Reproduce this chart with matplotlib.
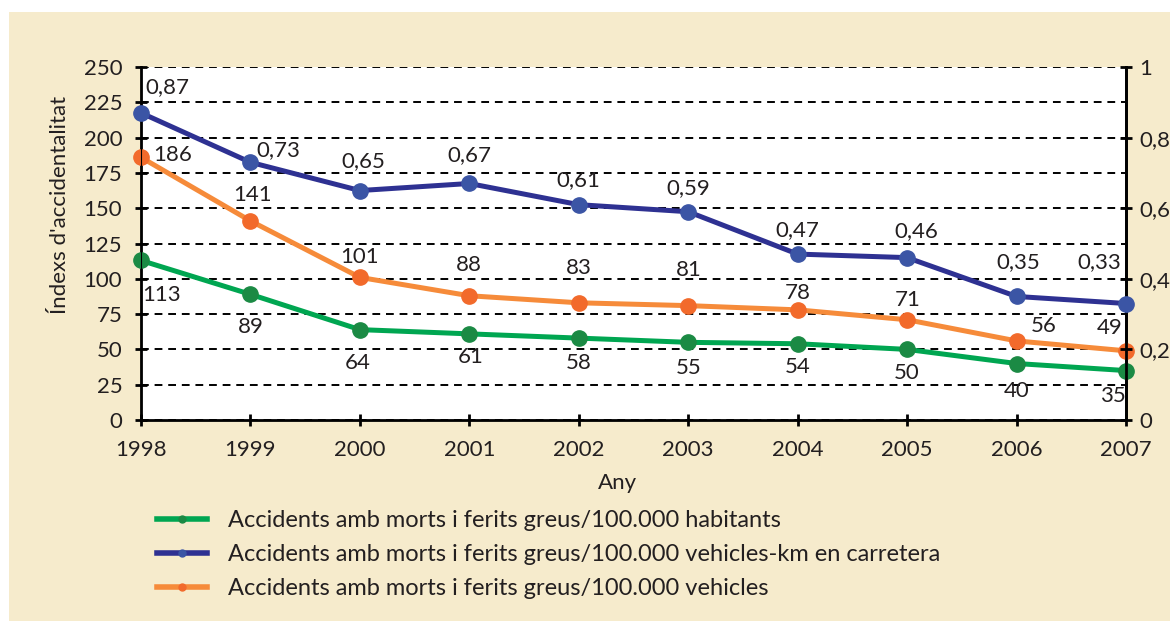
import matplotlib
matplotlib.use('Agg')
import matplotlib.pyplot as plt
from matplotlib.lines import Line2D
from matplotlib.patches import Rectangle

plt.rcParams['font.family'] = ['Lato', 'DejaVu Sans']

years = [1998, 1999, 2000, 2001, 2002, 2003, 2004, 2005, 2006, 2007]
habitants = [113, 89, 64, 61, 58, 55, 54, 50, 40, 35]
vehicles_km = [0.87, 0.73, 0.65, 0.67, 0.61, 0.59, 0.47, 0.46, 0.35, 0.33]
vehicles = [186, 141, 101, 88, 83, 81, 78, 71, 56, 49]

left_ticks = list(range(0, 251, 25))
right_ticks = [0, 0.2, 0.4, 0.6, 0.8, 1]

names = ['Accidents amb morts i ferits greus/100.000 habitants',
         'Accidents amb morts i ferits greus/100.000 vehicles-km en carretera',
         'Accidents amb morts i ferits greus/100.000 vehicles']

# label offsets in pixels (dx, dy)
off_hab = [(21, -35), (0, -33), (-2, -33), (1, -23), (0, -25), (0, -26), (0, -23), (0, -24), (0, -27), (-13, -25)]
off_vkm = [(26, 26), (28, 12), (3, 29), (0, 28), (0, 25), (0, 24), (0, 24), (9, 27), (2, 34), (-27, 41)]
off_veh = [(32, 2), (2, 26), (0, 20), (0, 31), (0, 35), (1, 36), (0, 17), (1, 20), (27, 15), (-16, 23)]

green_l, green_m = '#00a651', '#1b8a44'
blue_l, blue_m = '#2e3192', '#3b55a5'
orange_l, orange_m = '#f68b3a', '#f26a2b'
txt = '#231f20'
beige = '#f6ebcc'
fs = 16

fig = plt.figure(figsize=(11.7, 6.21), dpi=100, facecolor='white')
fig.patches.append(Rectangle((9 / 1170, 0), 1, 1 - 12 / 621, transform=fig.transFigure,
                             facecolor=beige, edgecolor='none', zorder=-10))

ax = fig.add_axes([141 / 1170, 1 - 420 / 621, (1126 - 141) / 1170, (420 - 67) / 621])
ax.set_facecolor('white')
ax.set_xlim(1998, 2007)
ax.set_ylim(0, 250)
ax.set_yticks(left_ticks)
ax.set_xticks(years)
ax.yaxis.grid(True, color='black', linestyle=(0, (4, 3)), linewidth=1.4)
ax.set_axisbelow(True)
ax.spines['top'].set_visible(False)
for s in ['left', 'right', 'bottom']:
    ax.spines[s].set_linewidth(2)
ax.tick_params(axis='both', direction='inout', length=9, width=2, labelsize=fs, colors=txt)
ax.tick_params(axis='both', color='black')
ax.tick_params(axis='y', pad=9)
ax.tick_params(axis='x', pad=10)

ax2 = ax.twinx()
ax2.set_ylim(0, 1)
ax2.set_yticks(right_ticks)
ax2.set_yticklabels([('%g' % t).replace('.', ',') for t in right_ticks])
ax2.spines['top'].set_visible(False)
ax2.spines['right'].set_linewidth(2)
ax2.tick_params(axis='y', direction='inout', length=9, width=2, labelsize=fs, labelcolor=txt, pad=5)

ax.plot(years, habitants, color=green_l, lw=3.6, marker='o', ms=11, mfc=green_m, mec=green_m,
        clip_on=False, zorder=3)
ax.plot(years, vehicles, color=orange_l, lw=3.6, marker='o', ms=11, mfc=orange_m, mec=orange_m,
        clip_on=False, zorder=3)
ax2.plot(years, vehicles_km, color=blue_l, lw=3.6, marker='o', ms=11, mfc=blue_m, mec=blue_m,
         clip_on=False, zorder=3)

for x, v, o in zip(years, habitants, off_hab):
    ax.annotate(str(v), (x, v), xytext=o, textcoords='offset pixels', ha='center', va='center',
                fontsize=fs, color=txt, annotation_clip=False)
for x, v, o in zip(years, vehicles, off_veh):
    ax.annotate(str(v), (x, v), xytext=o, textcoords='offset pixels', ha='center', va='center',
                fontsize=fs, color=txt, annotation_clip=False)
for x, v, o in zip(years, vehicles_km, off_vkm):
    ax2.annotate(('%.2f' % v).replace('.', ','), (x, v), xytext=o, textcoords='offset pixels',
                 ha='center', va='center', fontsize=fs, color=txt, annotation_clip=False)

fig.text(618 / 1170, 1 - 483 / 621, 'Any', ha='center', va='center', fontsize=fs, color=txt)
fig.text(60 / 1170, 1 - 205 / 621, "Índexs d'accidentalitat", ha='center', va='center',
         rotation=90, fontsize=fs, color=txt)

handles = [
    Line2D([], [], color=green_l, lw=4, marker='o', ms=5, mfc=green_m, mec=green_m),
    Line2D([], [], color=blue_l, lw=4, marker='o', ms=5, mfc=blue_m, mec=blue_m),
    Line2D([], [], color=orange_l, lw=4, marker='o', ms=5, mfc=orange_m, mec=orange_m),
]
leg = fig.legend(handles, names, loc='upper left', bbox_to_anchor=(157 / 1170, 1 - 510 / 621),
                 frameon=False, fontsize=17, handlelength=2.1, handletextpad=0.9,
                 labelspacing=0.55, borderaxespad=0, borderpad=0)
for t in leg.get_texts():
    t.set_color(txt)

fig.savefig('out.png', dpi=100, facecolor=fig.get_facecolor())
